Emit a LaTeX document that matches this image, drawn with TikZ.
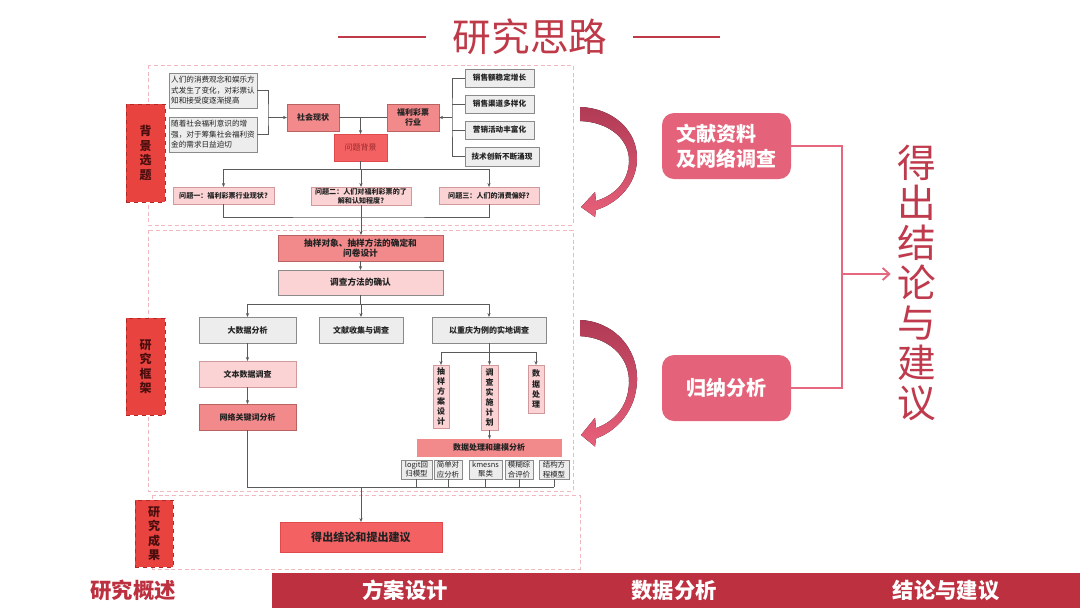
\documentclass[tikz,border=0pt]{standalone}
\usepackage{fontspec}
\setmainfont{Noto Sans CJK SC}
\usetikzlibrary{arrows.meta}
\definecolor{gfill}{HTML}{EDEDED}
\definecolor{gbord}{HTML}{8A8A8A}
\definecolor{pfill}{HTML}{FBD3D4}
\definecolor{pbord}{HTML}{D09A9C}
\definecolor{sfill}{HTML}{F28A8C}
\definecolor{sbord}{HTML}{B86262}
\definecolor{cfill}{HTML}{F36163}
\definecolor{cbord}{HTML}{E04A4C}
\definecolor{lfill}{HTML}{E8433F}
\definecolor{lbord}{HTML}{B02828}
\definecolor{ltext}{HTML}{4A0E0E}
\definecolor{rfill}{HTML}{E4637A}
\definecolor{barred}{HTML}{BD3040}
\definecolor{titred}{HTML}{BF3A48}
\definecolor{bigred}{HTML}{BE3A4C}
\definecolor{lgray}{HTML}{5A5A5A}
\definecolor{rpink}{HTML}{F2B8C0}
\definecolor{pinkline}{HTML}{E6687E}
\definecolor{crA}{HTML}{B03A55}
\definecolor{crB}{HTML}{E8607A}
\definecolor{txt}{HTML}{222222}
\definecolor{wtext}{HTML}{9A2A2A}
\newcommand\fsA{\fontsize{5.7}{7.9}\selectfont}
\newcommand\fsB{\fontsize{6}{7.6}\selectfont}
\newcommand\fsQ{\fontsize{5.3}{6.6}\selectfont}
\newcommand\fsM{\fontsize{5.6}{7.2}\selectfont}
\newcommand\bx[7]{\node[#6, minimum width={(#4-#2)*0.75pt}, minimum height={(#5-#3)*0.75pt}] (#1) at ({(#2+#4)/2},{(#3+#5)/2}) {#7};}
\newcommand\crescentpath{(580,0) .. controls (612,1) and (638,23) .. (637,53) .. controls (636,78) and (618,96) .. (596,103) -- (595,110) -- (581,100) -- (595,85) -- (596,94) .. controls (615,88) and (628,75) .. (629,55) .. controls (630,33) and (610,15) .. (580,14) -- cycle}
\begin{document}
\begin{tikzpicture}[x=0.75pt,y=-0.75pt,
  base/.style={draw=gbord, line width=0.5pt, inner sep=0pt, outer sep=0pt, align=center, text=txt},
  graybox/.style={base, fill=gfill, font=\fsB\bfseries},
  listbox/.style={base, fill=gfill, font=\fsA\bfseries},
  pinkbox/.style={base, fill=pfill, draw=pbord, font=\fsB\bfseries},
  qbox/.style={base, fill=pfill, draw=pbord, font=\fsQ\bfseries},
  salbox/.style={base, fill=sfill, draw=sbord, font=\fsB\bfseries},
  corbox/.style={base, fill=cfill, draw=cbord},
  modbox/.style={base, fill=gfill, font=\fsM},
  lab/.style={fill=lfill, draw=lbord, dashed, line width=0.6pt, inner sep=0pt, outer sep=0pt, align=center, text=ltext, font=\bfseries\fontsize{9}{10.8}\selectfont},
  region/.style={draw=rpink, dash pattern=on 3pt off 2pt, line width=0.6pt},
  conn/.style={draw=lgray, line width=0.5pt},
  arr/.style={conn, -{Stealth[length=3pt,width=2.4pt]}},
  rbox/.style={fill=rfill, rounded corners=9pt, inner sep=0pt, outer sep=0pt, text=white, font=\bfseries\fontsize{15}{19}\selectfont},
  pl/.style={draw=pinkline, line width=1.4pt},
  bartext/.style={font=\bfseries\fontsize{16}{18}\selectfont, text=white}
]
\fill[white] (0,0) rectangle (1080,608);
\useasboundingbox (0,0) rectangle (1080,608);

% title
\node[font=\fontsize{29}{30}\selectfont, text=titred, inner sep=0pt] (title) at (530,37) {研究思路};
\draw[titred, line width=2.2pt] (338,37) -- (426,37);
\draw[titred, line width=2.2pt] (633,37) -- (720,37);

% regions
\draw[region] (148,65) rectangle (573,225);
\draw[region] (148,230) rectangle (573,491);
\draw[region] (152,495) rectangle (580,569);

% left labels
\bx{lb1}{126}{104}{165}{202}{lab}{背\\景\\选\\题}
\bx{lb2}{126}{318}{165}{415}{lab}{研\\究\\框\\架}
\bx{lb3}{135}{500}{173}{567}{lab}{研\\究\\成\\果}

% top region
\bx{A1}{169}{73}{257}{108}{listbox, align=left, font=\fsA}{人们的消费观念和娱乐方\\式发生了变化，对彩票认\\知和接受度逐渐提高}
\bx{A2}{169}{117}{257}{152}{listbox, align=left, font=\fsA}{随着社会福利意识的增\\强，对于筹集社会福利资\\金的需求日益迫切}
\bx{shxz}{287}{104}{339}{131}{salbox}{社会现状}
\bx{flcp}{387}{104}{439}{131}{salbox}{福利彩票\\行业}
\bx{L1}{465}{69}{534}{87}{listbox}{销售额稳定增长}
\bx{L2}{465}{95}{534}{113}{listbox}{销售渠道多样化}
\bx{L3}{465}{121}{534}{139}{listbox}{营销活动丰富化}
\bx{L4}{465}{147}{539}{166}{listbox}{技术创新不断涌现}
\bx{wtbj}{334}{134}{387}{161}{corbox, font=\fsB, text=wtext}{问题背景}
\bx{Q1}{173}{187}{274}{204}{qbox}{问题一：福利彩票行业现状?}
\bx{Q2}{311}{187}{411}{205}{qbox}{问题二：人们对福利彩票的了\\解和认知程度?}
\bx{Q3}{439}{187}{539}{204}{qbox}{问题三：人们的消费偏好?}

% middle region
\bx{cy}{278}{235}{443}{261}{salbox, font=\fontsize{6.5}{8}\selectfont\bfseries}{抽样对象、抽样方法的确定和\\问卷设计}
\bx{dcff}{278}{270}{443}{295}{pinkbox, draw=gbord, font=\fontsize{6.5}{8}\selectfont\bfseries}{调查方法的确认}
\bx{dsj}{199}{317}{296}{343}{graybox}{大数据分析}
\bx{wx}{319}{317}{403}{343}{graybox}{文献收集与调查}
\bx{sd}{432}{317}{546}{343}{graybox}{以重庆为例的实地调查}
\bx{wbsj}{199}{361}{296}{387}{pinkbox}{文本数据调查}
\bx{wlgj}{199}{404}{296}{430}{salbox}{网络关键词分析}
\bx{cyfa}{433}{365}{449}{428}{pinkbox}{抽\\样\\方\\案\\设\\计}
\bx{dcss}{481}{365}{498}{430}{pinkbox}{调\\查\\实\\施\\计\\划}
\bx{sjcl}{528}{365}{544}{413}{pinkbox}{数\\据\\处\\理}
\bx{jm}{417}{439}{561}{456}{salbox, draw=sfill}{数据处理和建模分析}
\bx{m1}{401}{460}{432}{479}{modbox}{logit回\\归模型}
\bx{m2}{434}{460}{462}{479}{modbox}{简单对\\应分析}
\bx{m3}{469}{460}{502}{479}{modbox}{kmesns\\聚类}
\bx{m4}{505}{460}{533}{479}{modbox}{模糊综\\合评价}
\bx{m5}{539}{460}{569}{479}{modbox}{结构方\\程模型}

% bottom region
\bx{res}{280}{522}{442}{552}{corbox, font=\fontsize{8.3}{10}\selectfont\bfseries}{得出结论和提出建议}

% connectors top
\coordinate (J1) at (268,117.5);
\draw[conn] (A1.east) -| (J1) |- (A2.east);
\draw[arr] (J1) -- (shxz.west);
\coordinate (J2) at (452,117.5);
\draw[conn] (L1.west) -| (J2) |- (L4.west);
\draw[conn] (L2.west) -- (L2.west -| J2);
\draw[conn] (L3.west) -- (L3.west -| J2);
\draw[arr] (J2) -- (flcp.east);
\draw[conn] (shxz.east) -- (flcp.west);
\coordinate (J3) at (wtbj.north |- shxz.east);
\draw[arr] (J3) -- (wtbj.north);
\coordinate (J4) at (360.5,169);
\draw[conn] (wtbj.south) -- (J4);
\draw[conn] (Q1.north |- J4) -- (Q3.north |- J4);
\draw[arr] (Q1.north |- J4) -- (Q1.north);
\draw[arr] (Q2.north |- J4) -- (Q2.north);
\draw[arr] (Q3.north |- J4) -- (Q3.north);
\coordinate (J5) at (361,217);
\draw[conn] (Q1.south) |- (J5) -| (Q3.south);
\draw[arr] (Q2.south) -- (Q2.south |- cy.north);

% connectors middle
\draw[arr] (cy.south) -- (dcff.north);
\coordinate (J6) at (360.5,304);
\draw[conn] (dcff.south) -- (J6);
\draw[conn] (dsj.north |- J6) -- (sd.north |- J6);
\draw[arr] (dsj.north |- J6) -- (dsj.north);
\draw[arr] (wx.north |- J6) -- (wx.north);
\draw[arr] (sd.north |- J6) -- (sd.north);
\draw[arr] (dsj.south) -- (wbsj.north);
\draw[arr] (wbsj.south) -- (wlgj.north);
\coordinate (J7) at (489,352);
\draw[conn] (sd.south) -- (J7);
\draw[conn] (cyfa.north |- J7) -- (sjcl.north |- J7);
\draw[arr] (cyfa.north |- J7) -- (cyfa.north);
\draw[arr] (dcss.north |- J7) -- (dcss.north);
\draw[arr] (sjcl.north |- J7) -- (sjcl.north);
\draw[arr] (dcss.south) -- (dcss.south |- jm.north);
\coordinate (J8) at (247.5,487);
\draw[conn] (wlgj.south) -- (J8) -- (J8 -| m5.south);
\foreach \m in {m1,m2,m3,m4,m5}{\draw[conn] (\m.south) -- (\m.south |- J8);}
\draw[arr] (res.north |- J8) -- (res.north);

% crescent arrows
\begin{scope}[shift={(0,107)}]
\fill[top color=crA, bottom color=crB] \crescentpath;
\end{scope}
\begin{scope}[shift={(0,320)}, yscale=1.15]
\fill[top color=crA, bottom color=crB] \crescentpath;
\end{scope}

% right side
\bx{wx2}{662}{113}{791}{179}{rbox, align=left}{文献资料\\及网络调查}
\bx{gn}{662}{355}{791}{421}{rbox}{归纳分析}
\node[font=\fontsize{29}{30}\selectfont, text=bigred, align=center, inner sep=0pt] (big) at (917,283) {得\\出\\结\\论\\与\\建\\议};
\coordinate (J9) at (842,274);
\draw[pl] (wx2.east) -| (J9) |- (gn.east);
\draw[pl, -{Straight Barb[length=5pt,width=9pt]}, shorten >=5pt] (J9) -- (J9 -| big.west);

% bottom bar
\fill[barred] (272,573) rectangle (1080,608);
\node[bartext, text=barred] (b1) at (133,590) {研究概述};
\node[bartext] (b2) at (405,590) {方案设计};
\node[bartext] (b3) at (674,590) {数据分析};
\node[bartext] (b4) at (946,590) {结论与建议};
\end{tikzpicture}
\end{document}
